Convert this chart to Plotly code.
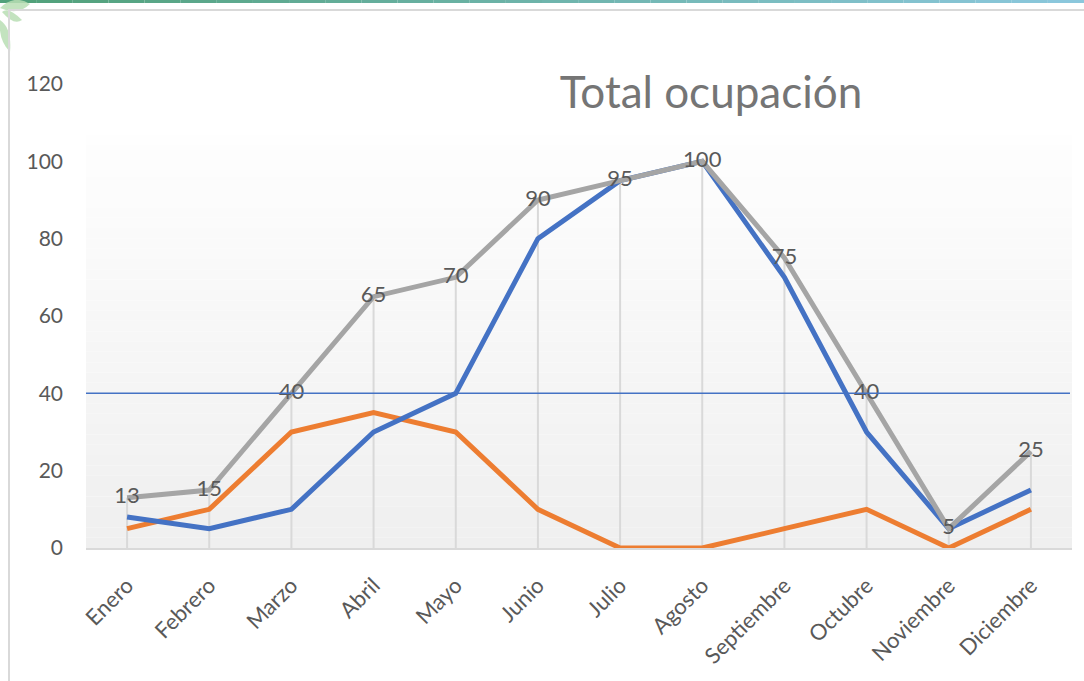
import plotly.graph_objects as go

# ---- data ----
meses = ["Enero", "Febrero", "Marzo", "Abril", "Mayo", "Junio", "Julio",
         "Agosto", "Septiembre", "Octubre", "Noviembre", "Diciembre"]
total = [13, 15, 40, 65, 70, 90, 95, 100, 75, 40, 5, 25]
serie_azul = [8, 5, 10, 30, 40, 80, 95, 100, 70, 30, 5, 15]
serie_naranja = [5, 10, 30, 35, 30, 10, 0, 0, 5, 10, 0, 10]
umbral = 40
y_ticks = [0, 20, 40, 60, 80, 100, 120]

# ---- geometry helpers (pixel -> paper) ----
W, H = 1084, 681
L, R, T, B = 86, 1072, 84, 548
def px(x):
    return (x - L) / (R - L)
def py(y):
    return (B - y) / (B - T)

FONT = "Lato"
TXT = "#595959"

fig = go.Figure()

# drop lines (from axis up to total series)
dx, dy = [], []
for m, v in zip(meses, total):
    dx += [m, m, None]
    dy += [0, v, None]
fig.add_trace(go.Scatter(x=dx, y=dy, mode="lines",
                         line=dict(color="#d9d9d9", width=2),
                         hoverinfo="skip", showlegend=False))

fig.add_trace(go.Scatter(x=meses, y=serie_naranja, mode="lines",
                         line=dict(color="#ed7d31", width=5),
                         showlegend=False))
fig.add_trace(go.Scatter(x=meses, y=serie_azul, mode="lines",
                         line=dict(color="#4472c4", width=5),
                         showlegend=False))
fig.add_trace(go.Scatter(x=meses, y=total, mode="lines+text",
                         line=dict(color="#a5a5a5", width=5),
                         text=[str(v) for v in total],
                         textposition="middle center",
                         textfont=dict(family=FONT, size=22, color=TXT),
                         showlegend=False))

shapes = []
# plot-area gradient background
top_px = 135
n = 40
c0, c1 = 254, 239
for i in range(n):
    y0 = top_px + (B - top_px) * i / n
    y1 = top_px + (B - top_px) * (i + 1) / n
    c = round(c0 + (c1 - c0) * (i + 0.5) / n)
    shapes.append(dict(type="rect", xref="paper", yref="paper",
                       x0=0, x1=1, y0=py(y1), y1=py(y0),
                       fillcolor=f"rgb({c},{c},{c})", line=dict(width=0),
                       layer="below"))

# threshold line
shapes.append(dict(type="line", xref="paper", yref="y", x0=0, x1=px(1070),
                   y0=umbral, y1=umbral,
                   line=dict(color="#4472c4", width=1.5), layer="above"))

# frame: top gradient bar
nb = 30
for i in range(nb):
    t = (i + 0.5) / nb
    r = round(80 + (140 - 80) * t)
    g = round(160 + (200 - 160) * t)
    b = round(120 + (222 - 120) * t)
    shapes.append(dict(type="rect", xref="paper", yref="paper",
                       x0=px(W * i / nb), x1=px(W * (i + 1) / nb),
                       y0=py(3), y1=py(0),
                       fillcolor=f"rgb({r},{g},{b})", line=dict(width=0)))
# green decoration top-left (leaf-like)
for (ax, ay, bx, by, c1x, c1y, c2x, c2y) in [
        (0, 8, 30, 4, 14, -6, 18, 16),
        (0, 20, 10, 52, 12, 28, -2, 40),
        (2, 12, 22, 20, 8, 6, 14, 26)]:
    path = "M {:.5f} {:.5f} Q {:.5f} {:.5f} {:.5f} {:.5f} Q {:.5f} {:.5f} {:.5f} {:.5f} Z".format(
        px(ax), py(ay), px(c1x), py(c1y), px(bx), py(by), px(c2x), py(c2y), px(ax), py(ay))
    shapes.append(dict(type="path", xref="paper", yref="paper", path=path,
                       fillcolor="rgba(185,222,180,0.85)", line=dict(width=0)))
# frame borders
shapes.append(dict(type="rect", xref="paper", yref="paper",
                   x0=px(8), x1=px(W), y0=py(11), y1=py(9),
                   fillcolor="#d9d9d9", line=dict(width=0)))
shapes.append(dict(type="rect", xref="paper", yref="paper",
                   x0=px(8), x1=px(10), y0=py(H), y1=py(9),
                   fillcolor="#d9d9d9", line=dict(width=0)))

fig.update_layout(
    width=W, height=H,
    margin=dict(l=L, r=W - R, t=T, b=H - B, pad=0),
    paper_bgcolor="white", plot_bgcolor="white",
    shapes=shapes,
    font=dict(family=FONT, color=TXT),
    title=dict(text="Total ocupación", x=711 / W, xanchor="center",
               y=1 - 93 / H, yanchor="middle", xref="container", yref="container",
               font=dict(family=FONT, size=44, color="#757575")),
    xaxis=dict(type="category", range=[-0.5, 11.5], showgrid=False,
               zeroline=False, showline=True, linecolor="#d9d9d9", linewidth=2,
               ticks="", tickangle=-45, ticklabelstandoff=14,
               tickfont=dict(family=FONT, size=22, color=TXT)),
    yaxis=dict(range=[0, 120], tickvals=y_ticks, showgrid=False,
               zeroline=False, showline=False, ticks="",
               ticklabelstandoff=22,
               tickfont=dict(family=FONT, size=21, color=TXT)),
)

fig.write_html("out.html", config={"displayModeBar": False},
               post_script="document.body.style.margin='0';document.body.style.overflow='hidden';")
